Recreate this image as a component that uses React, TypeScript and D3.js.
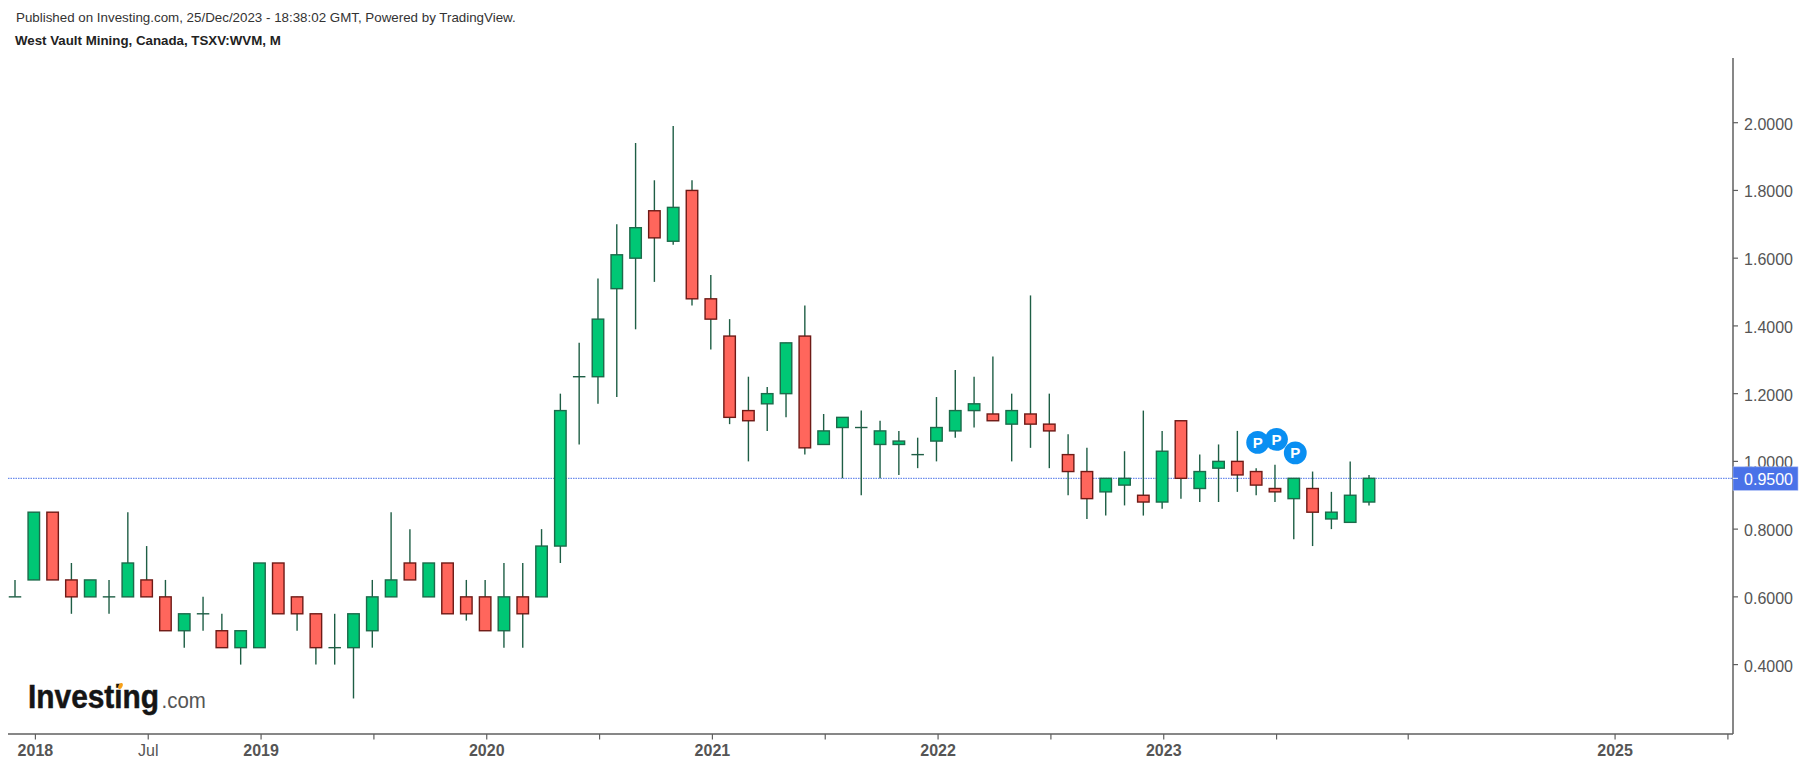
import * as d3 from 'd3'

// Monthly candles, Dec 2017 to Dec 2023
const opens = [
  0.6, 0.65, 0.85, 0.65, 0.6, 0.6, 0.6, 0.65, 0.6, 0.5, 0.55, 0.5, 0.45, 0.45, 0.7, 0.6, 0.55, 0.45, 0.45,
  0.5, 0.6, 0.7, 0.6, 0.7, 0.6, 0.6, 0.5, 0.6, 0.6, 0.75, 1.25, 1.25, 1.51, 1.6, 1.74, 1.65, 1.8, 1.48,
  1.37, 1.15, 1.17, 1.2, 1.37, 1.05, 1.1, 1.1, 1.05, 1.05, 1.02, 1.06, 1.09, 1.15, 1.14, 1.11, 1.14, 1.11,
  1.02, 0.97, 0.91, 0.93, 0.9, 0.88, 1.12, 0.92, 0.98, 1.0, 0.97, 0.92, 0.89, 0.92, 0.83, 0.82, 0.88
]
const closes = [
  0.6, 0.85, 0.65, 0.6, 0.65, 0.6, 0.7, 0.6, 0.5, 0.55, 0.55, 0.45, 0.5, 0.7, 0.55, 0.55, 0.45, 0.45, 0.55,
  0.6, 0.65, 0.65, 0.7, 0.55, 0.55, 0.5, 0.6, 0.55, 0.75, 1.15, 1.25, 1.42, 1.61, 1.69, 1.66, 1.75, 1.48, 1.42,
  1.13, 1.12, 1.2, 1.35, 1.04, 1.09, 1.13, 1.1, 1.09, 1.06, 1.02, 1.1, 1.15, 1.17, 1.12, 1.15, 1.11, 1.09,
  0.97, 0.89, 0.95, 0.95, 0.88, 1.03, 0.95, 0.97, 1.0, 0.96, 0.93, 0.91, 0.95, 0.85, 0.85, 0.9, 0.95
]
const highs = [
  0.65, 0.85, 0.85, 0.7, 0.65, 0.65, 0.85, 0.75, 0.65, 0.55, 0.6, 0.55, 0.5, 0.7, 0.7, 0.6, 0.55, 0.55, 0.55,
  0.65, 0.85, 0.8, 0.7, 0.7, 0.65, 0.65, 0.7, 0.7, 0.8, 1.2, 1.35, 1.54, 1.7, 1.94, 1.83, 1.99, 1.83, 1.55,
  1.42, 1.25, 1.22, 1.35, 1.46, 1.14, 1.13, 1.15, 1.12, 1.09, 1.07, 1.19, 1.27, 1.25, 1.31, 1.2, 1.49, 1.2,
  1.08, 1.04, 0.95, 1.03, 1.15, 1.09, 1.12, 1.02, 1.05, 1.09, 0.98, 0.99, 0.95, 0.97, 0.91, 1.0, 0.96
]
const lows = [
  0.6, 0.65, 0.65, 0.55, 0.6, 0.55, 0.6, 0.6, 0.5, 0.45, 0.5, 0.45, 0.4, 0.45, 0.55, 0.5, 0.4, 0.4, 0.3,
  0.45, 0.6, 0.65, 0.6, 0.55, 0.53, 0.5, 0.45, 0.45, 0.6, 0.7, 1.05, 1.17, 1.19, 1.39, 1.53, 1.64, 1.46, 1.33,
  1.11, 1.0, 1.09, 1.13, 1.02, 1.05, 0.95, 0.9, 0.95, 0.96, 0.98, 1.0, 1.07, 1.1, 1.12, 1.0, 1.04, 0.98,
  0.9, 0.83, 0.84, 0.87, 0.84, 0.86, 0.89, 0.88, 0.88, 0.91, 0.9, 0.88, 0.77, 0.75, 0.8, 0.82, 0.87
]

// month index -> label, '' where the tick has no text
const xTickIndex = [1, 7, 13, 19, 25, 31, 37, 43, 49, 55, 61, 67, 74, 85, 91]
const xTickLabels = ['2018', 'Jul', '2019', '', '2020', '', '2021', '', '2022', '', '2023', '', '', '2025', '']
const yTicks = [0.4, 0.6, 0.8, 1.0, 1.2, 1.4, 1.6, 1.8, 2.0]

const lastPrice = 0.95
const markerIndex = [66, 67, 68]
const markerLevels = [1.056, 1.065, 1.025]

const width = 1813
const height = 767
const axisX = 1733
const axisY = 734
const axisTop = 58

const fontFamily = '"Liberation Sans", Arial, sans-serif'
const upFill = '#00c775'
const upStroke = '#1c6a4a'
const downFill = '#ff665c'
const downStroke = '#6e1a16'
const wickColor = '#1e5e45'
const textColor = '#555555'
const axisColor = '#5f5f5f'
const priceColor = '#4a72e8'

const x = d3.scaleLinear().domain([0, 72]).range([15, 1369])
const y = d3.scaleLinear().domain([0.4, 2.0]).range([664.6, 122.7])

const App = () => {
  const bodyWidth = 11.5

  return (
    <svg
      width={width}
      height={height}
      viewBox={`0 0 ${width} ${height}`}
      style={{ position: 'absolute', left: 0, top: 0, background: '#fff' }}
      fontFamily={fontFamily}
    >
      <text x={16} y={22} fontSize={13.35} fill="#333">
        Published on Investing.com, 25/Dec/2023 - 18:38:02 GMT, Powered by TradingView.
      </text>
      <text x={15} y={45} fontSize={13.3} fontWeight="bold" fill="#222">
        West Vault Mining, Canada, TSXV:WVM, M
      </text>

      {/* last price line */}
      <line
        x1={8}
        x2={axisX}
        y1={y(lastPrice)}
        y2={y(lastPrice)}
        stroke={priceColor}
        strokeWidth={1}
        strokeDasharray="1.5 1"
      />

      {/* candles */}
      {opens.map((open, i) => {
        const close = closes[i]
        const cx = x(i)
        const up = close >= open
        const top = y(Math.max(open, close))
        const bottom = y(Math.min(open, close))
        return (
          <g key={i}>
            <line x1={cx} x2={cx} y1={y(highs[i])} y2={y(lows[i])} stroke={wickColor} strokeWidth={1.4} />
            {open === close ? (
              <line
                x1={cx - bodyWidth / 2 - 0.5}
                x2={cx + bodyWidth / 2 + 0.5}
                y1={top}
                y2={top}
                stroke={wickColor}
                strokeWidth={1.4}
              />
            ) : (
              <rect
                x={cx - bodyWidth / 2}
                y={top}
                width={bodyWidth}
                height={bottom - top}
                fill={up ? upFill : downFill}
                stroke={up ? upStroke : downStroke}
                strokeWidth={1.4}
              />
            )}
          </g>
        )
      })}

      {/* P markers */}
      {markerIndex.map((idx, i) => (
        <g key={idx} transform={`translate(${x(idx) + 1.5},${y(markerLevels[i])})`}>
          <circle r={11.4} fill="#0a8ff2" />
          <text textAnchor="middle" y={5.5} fontSize={15} fontWeight="bold" fill="#fff">
            P
          </text>
        </g>
      ))}

      {/* y axis */}
      <line x1={axisX} x2={axisX} y1={axisTop} y2={axisY} stroke={axisColor} strokeWidth={1.5} />
      {yTicks.map(t => (
        <g key={t} transform={`translate(${axisX},${y(t)})`}>
          <line x1={0} x2={5} stroke={axisColor} strokeWidth={1.2} />
          <text x={60} y={7} textAnchor="end" fontSize={16} fill={textColor}>
            {d3.format('.4f')(t)}
          </text>
        </g>
      ))}

      {/* x axis */}
      <line x1={8} x2={axisX} y1={axisY} y2={axisY} stroke={axisColor} strokeWidth={1.5} />
      {xTickIndex.map((idx, i) => (
        <g key={idx} transform={`translate(${x(idx) + 1.6},${axisY})`}>
          <line y1={0} y2={5.5} stroke={axisColor} strokeWidth={1.2} />
          <text
            y={22}
            textAnchor="middle"
            fontSize={16}
            fontWeight={xTickLabels[i] === 'Jul' ? 'normal' : 'bold'}
            fill={textColor}
          >
            {xTickLabels[i]}
          </text>
        </g>
      ))}

      {/* last price label */}
      <g transform={`translate(${axisX},${y(lastPrice)})`}>
        <rect x={0} y={-11.5} width={65} height={23.5} fill={priceColor} stroke="#a9bcf5" strokeWidth={0.6} />
        <line x1={0} x2={5} stroke="#fff" strokeWidth={1} />
        <text x={60} y={6.5} textAnchor="end" fontSize={16} fill="#fff">
          {d3.format('.4f')(lastPrice)}
        </text>
      </g>

      {/* logo, squeezed with a transform so the word stays the width it looks */}
      <text
        transform="translate(28,708) scale(0.905,1)"
        fontSize={33}
        fontWeight="bold"
        fill="#151515"
        stroke="#151515"
        strokeWidth={0.5}
      >
        Investing
      </text>
      <ellipse cx={120.5} cy={686} rx={2} ry={3.2} fill="#f7a11a" transform="rotate(25 120.5 686)" />
      <text transform="translate(161.5,708) scale(0.93,1)" fontSize={22} fill="#555">
        .com
      </text>
    </svg>
  )
}

export default App
